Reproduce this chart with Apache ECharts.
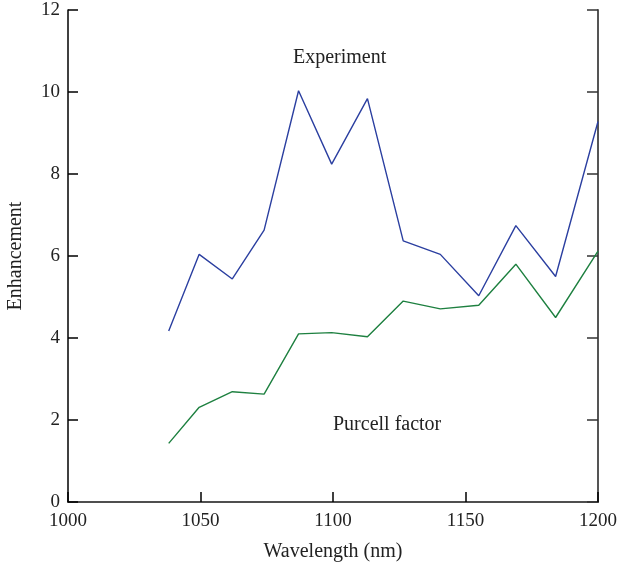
<!DOCTYPE html>
<html>
<head>
<meta charset="utf-8">
<script src="https://cdn.jsdelivr.net/npm/echarts@6/dist/echarts.min.js"></script>
<style>
  html, body { margin: 0; padding: 0; background: #fff; }
  #chart { width: 623px; height: 569px; }
</style>
</head>
<body>
<div id="chart"></div>
<script>
// wavelengths (nm) of the measured points
const wavelength = [1038, 1049.5, 1062, 1074, 1087, 1099.5, 1113, 1126.5, 1140.5, 1155, 1169, 1184, 1200]
// measured enhancement
const experiment = [4.17, 6.04, 5.44, 6.63, 10.03, 8.24, 9.84, 6.37, 6.04, 5.03, 6.74, 5.50, 9.28]
// calculated Purcell factor
const purcell = [1.43, 2.31, 2.69, 2.63, 4.10, 4.13, 4.03, 4.90, 4.71, 4.80, 5.80, 4.50, 6.12]

const fontFamily = '"Liberation Serif", "DejaVu Serif", serif'
const textColor = '#222'

function pairs(xs, ys) {
  return xs.map((x, i) => [x, ys[i]])
}

const chart = echarts.init(document.getElementById('chart'))

chart.setOption({
  animation: false,
  textStyle: { fontFamily: fontFamily },
  grid: {
    left: 68,
    right: 25,
    top: 10,
    bottom: 67,
    outerBoundsMode: 'none',
    containLabel: false
  },
  xAxis: [{
    type: 'value',
    min: 1000,
    max: 1200,
    interval: 50,
    name: 'Wavelength (nm)',
    nameLocation: 'middle',
    nameGap: 40,
    nameTextStyle: { fontSize: 20, color: textColor, fontFamily: fontFamily },
    axisLine: { lineStyle: { color: '#000', width: 1.5 } },
    axisTick: { inside: true, length: 10, lineStyle: { color: '#000', width: 1.5 } },
    axisLabel: {
      fontSize: 19,
      color: textColor,
      margin: 10,
      fontFamily: fontFamily,
      formatter: v => String(v)
    },
    splitLine: { show: false }
  }, {
    type: 'value',
    position: 'top',
    min: 1000,
    max: 1200,
    interval: 50,
    axisLine: { show: true, lineStyle: { color: '#555', width: 1.5 } },
    axisTick: { show: false },
    axisLabel: { show: false },
    splitLine: { show: false }
  }],
  yAxis: [{
    type: 'value',
    min: 0,
    max: 12,
    interval: 2,
    name: 'Enhancement',
    nameLocation: 'middle',
    nameGap: 42,
    nameTextStyle: { fontSize: 20, color: textColor, fontFamily: fontFamily },
    axisLine: { show: true, lineStyle: { color: '#000', width: 1.5 } },
    axisTick: { show: true, inside: true, length: 10, lineStyle: { color: '#000', width: 1.5 } },
    axisLabel: { fontSize: 19, color: textColor, margin: 8, fontFamily: fontFamily },
    splitLine: { show: false }
  }, {
    type: 'value',
    position: 'right',
    min: 0,
    max: 12,
    interval: 2,
    axisLine: { show: true, lineStyle: { color: '#555', width: 2 } },
    axisTick: { show: true, inside: true, length: 11, lineStyle: { color: '#333', width: 1.5 } },
    axisLabel: { show: false },
    splitLine: { show: false }
  }],
  graphic: [{
    type: 'text',
    left: 293,
    top: 48,
    style: { text: 'Experiment', font: '20px ' + fontFamily, fill: textColor }
  }, {
    type: 'text',
    left: 333,
    top: 415,
    style: { text: 'Purcell factor', font: '20px ' + fontFamily, fill: textColor }
  }],
  series: [{
    name: 'Experiment',
    type: 'line',
    data: pairs(wavelength, experiment),
    showSymbol: false,
    lineStyle: { color: '#2b3fa0', width: 1.4 }
  }, {
    name: 'Purcell factor',
    type: 'line',
    data: pairs(wavelength, purcell),
    showSymbol: false,
    lineStyle: { color: '#1e8040', width: 1.4 }
  }]
})
</script>
</body>
</html>
